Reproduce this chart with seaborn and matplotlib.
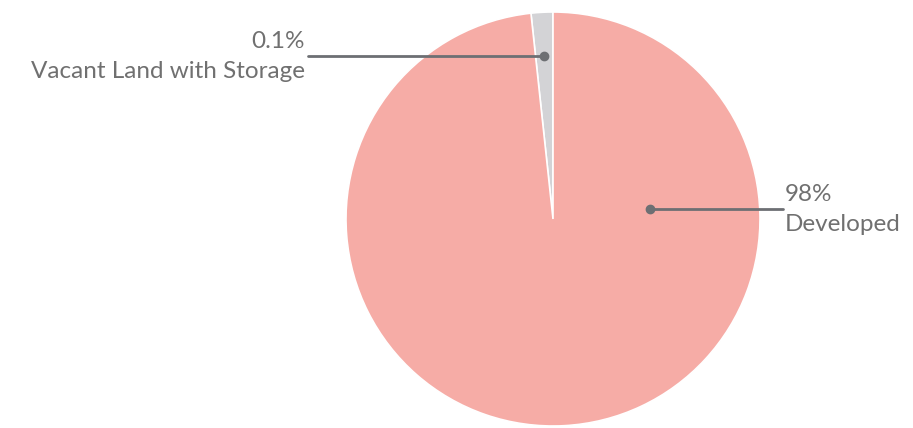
import matplotlib
matplotlib.use("Agg")
import matplotlib.pyplot as plt
import numpy as np
import seaborn as sns

# land use shares (slice sizes)
categories = ["Vacant Land with Storage", "Developed"]
shares = [1.7, 98.3]
pct_labels = ["0.1%", "98%"]
colors = ["#D3D3D6", "#F6ACA6"]

sns.set_style("white")
plt.rcParams["font.family"] = ["Lato", "DejaVu Sans"]

fig = plt.figure(figsize=(9.13, 4.28), dpi=100)
ax = fig.add_axes([0, 0, 1, 1])

cx, cy, R = 553, 209, 207
wedges, _ = ax.pie(shares, colors=colors, startangle=90, counterclock=True,
                   center=(cx, cy), radius=R, frame=True,
                   wedgeprops=dict(edgecolor="white", linewidth=1.2))
ax.set_xlim(0, 913)
ax.set_ylim(0, 428)
ax.set_aspect("equal")
ax.axis("off")

txt_col = "#707070"
line_col = "#6d6f73"
fs = 17.5

# callout for the small wedge
w = wedges[0]
ang = np.deg2rad((w.theta1 + w.theta2) / 2)
px, py = cx + 0.79 * R * np.cos(ang), cy + 0.79 * R * np.sin(ang)
ax.plot([px, 308], [py, py], color=line_col, lw=2)
ax.plot(px, py, "o", color=line_col, ms=6)
ax.text(305, py + 4, pct_labels[0], ha="right", va="bottom", fontsize=fs, color=txt_col)
ax.text(305, py - 5, categories[0], ha="right", va="top", fontsize=fs, color=txt_col)

# callout for the big wedge
ang = np.deg2rad(6.0)
px, py = cx + 0.47 * R * np.cos(ang), cy + 0.47 * R * np.sin(ang)
ax.plot([px, 783], [py, py], color=line_col, lw=2)
ax.plot(px, py, "o", color=line_col, ms=6)
ax.text(785, py + 4, pct_labels[1], ha="left", va="bottom", fontsize=fs, color=txt_col)
ax.text(785, py - 5, categories[1], ha="left", va="top", fontsize=fs, color=txt_col)

fig.savefig("out.png", dpi=100, facecolor="white")
